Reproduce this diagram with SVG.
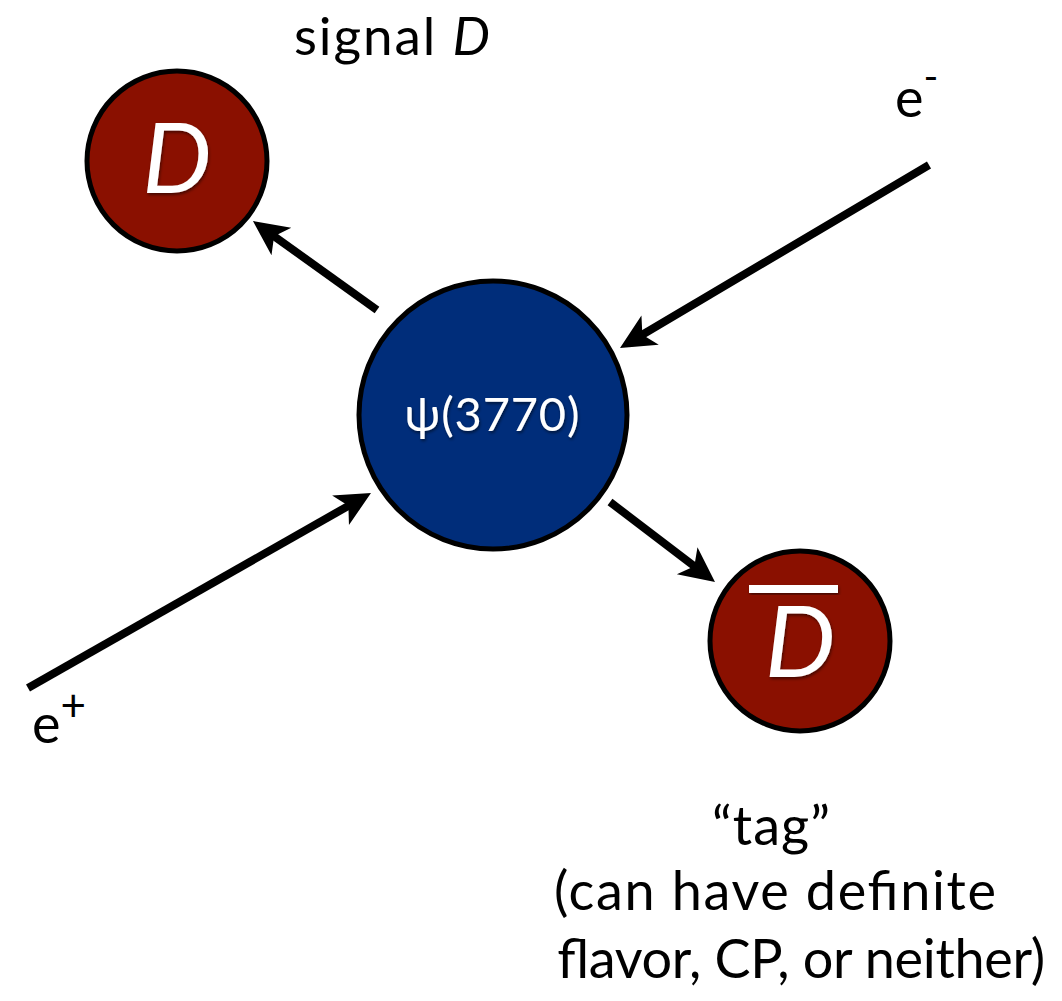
<svg xmlns="http://www.w3.org/2000/svg" width="1062" height="1001" viewBox="0 0 1062 1001">
<style>
.lbl{font-family:Lato,"Open Sans","Liberation Sans",sans-serif;fill:#000}
.node{stroke:#000;stroke-width:5}
.red{fill:#8A1000}
.blue{fill:#002D7A}
.wt{font-family:Lato,"Open Sans","Liberation Sans",sans-serif;fill:#fff}
.arr{stroke:#000;stroke-width:8;fill:none;marker-end:url(#ah)}
</style>
<defs>
<marker id="ah" viewBox="-16 -18 37 36" refX="0" refY="0" markerWidth="37" markerHeight="36" markerUnits="userSpaceOnUse" orient="auto">
<path d="M20,0 L-15,-17 L-6,0 L-15,17 Z" fill="#000"/>
</marker>
<filter id="sh" x="-20%" y="-20%" width="140%" height="140%">
<feDropShadow dx="1" dy="2" stdDeviation="1.5" flood-color="#000" flood-opacity="0.5"/>
</filter>
</defs>
<rect width="1062" height="1001" fill="#fff"/>
<g id="connectors">
<path class="arr" d="M377,310 L269.2,232.7"/>
<path class="arr" d="M610,502 L699.1,569.9"/>
<path class="arr" d="M929,165 L637.2,337.8"/>
<path class="arr" d="M28,688 L353.6,502.9"/>
</g>
<g id="psi">
<circle class="node blue" cx="493" cy="415" r="134"/>
<text class="wt" x="492" y="431" font-size="47" text-anchor="middle" textLength="175" filter="url(#sh)">ψ(3770)</text>
</g>
<g id="signalD">
<circle class="node red" cx="177" cy="161" r="90"/>
<text class="wt" x="177" y="193" font-size="98" font-style="italic" text-anchor="middle" filter="url(#sh)">D</text>
</g>
<g id="tagDbar">
<circle class="node red" cx="800" cy="641" r="90"/>
<rect x="749" y="585" width="89" height="8" fill="#fff" filter="url(#sh)"/>
<text class="wt" x="800" y="677" font-size="100" font-style="italic" text-anchor="middle" filter="url(#sh)">D</text>
</g>
<g id="labels">
<text class="lbl" x="294" y="55" font-size="53" textLength="196">signal <tspan font-style="italic">D</tspan></text>
<text class="lbl" x="895" y="117" font-size="54">e<tspan font-size="40" dy="-26">-</tspan></text>
<text class="lbl" x="32" y="743" font-size="54">e<tspan font-size="44" dy="-22">+</tspan></text>
<text class="lbl" x="771" y="845" font-size="54" text-anchor="middle" textLength="118">“tag”</text>
<text class="lbl" x="775" y="910" font-size="54" text-anchor="middle" textLength="442">(can have definite</text>
<text class="lbl" x="801" y="978" font-size="54" text-anchor="middle" textLength="488">flavor, CP, or neither)</text>
</g>
</svg>
